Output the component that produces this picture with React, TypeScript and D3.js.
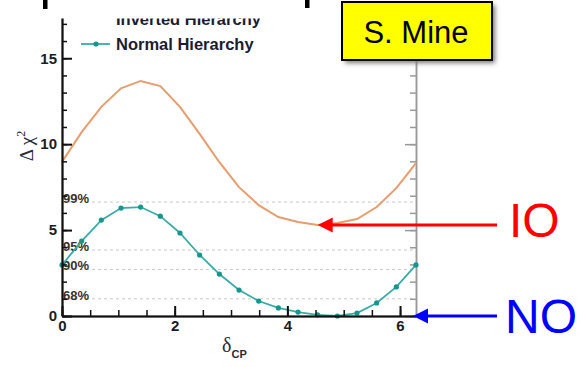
import React from "react";
import { select, scaleLinear, axisLeft, axisBottom, axisRight, line, range } from "d3";

// delta_CP grid (radians), 20 degree steps
const deltaCP = [
  0, 0.349, 0.698, 1.047, 1.396, 1.745, 2.094, 2.443, 2.793, 3.142, 3.491,
  3.84, 4.189, 4.538, 4.887, 5.236, 5.585, 5.934, 6.283,
];
const normalChi2 = [
  2.97, 4.36, 5.58, 6.28, 6.34, 5.81, 4.83, 3.55, 2.44, 1.51, 0.87, 0.47,
  0.23, 0.07, 0.0, 0.17, 0.76, 1.69, 2.97,
];
const invertedChi2 = [
  8.97, 10.7, 12.17, 13.25, 13.68, 13.38, 12.17, 10.6, 8.95, 7.5, 6.45, 5.76,
  5.47, 5.3, 5.41, 5.64, 6.34, 7.44, 8.9,
];
const clLabels = ["68%", "90%", "95%", "99%"];
const clValues = [1.0, 2.71, 3.84, 6.63];
const xMajor = [0, 2, 4, 6];
const yMajor = [0, 5, 10, 15];

const W = 578;
const H = 367;
const margin = { top: 17, right: 162, bottom: 51, left: 62 };

const App = () => {
  const svgRef = React.useRef<SVGSVGElement>(null);

  React.useEffect(() => {
    const svg = select(svgRef.current);
    svg.selectAll("*").remove();

    const x = scaleLinear()
      .domain([0, 2 * Math.PI])
      .range([margin.left, W - margin.right]);
    const y = scaleLinear()
      .domain([0, 17.4])
      .range([H - margin.bottom, margin.top]);

    const x0 = x.range()[0];
    const x1 = x.range()[1];
    const yb = y(0);

    const defs = svg.append("defs");
    const f = defs.append("filter").attr("id", "shadow").attr("x", "-20%").attr("y", "-20%").attr("width", "140%").attr("height", "150%");
    f.append("feGaussianBlur").attr("stdDeviation", 2.5);

    // confidence level lines
    const cl = svg.append("g");
    cl.selectAll("line")
      .data(clValues)
      .join("line")
      .attr("x1", x0)
      .attr("x2", x1)
      .attr("y1", (d) => y(d))
      .attr("y2", (d) => y(d))
      .attr("stroke", "#c8c8c8")
      .attr("stroke-width", 1)
      .attr("stroke-dasharray", "3,3");
    cl.selectAll("text")
      .data(clValues)
      .join("text")
      .attr("x", x0 + 1)
      .attr("y", (d) => y(d) + 1)
      .attr("font-family", "Liberation Sans, Arial, sans-serif")
      .attr("font-weight", "bold")
      .attr("font-size", 13)
      .attr("fill", "#3a3030")
      .text((d, i) => clLabels[i]);

    // right axis (grey)
    svg.append("g")
      .attr("transform", `translate(${x1},0)`)
      .call(axisRight(y).tickValues(yMajor).tickSizeInner(-11).tickSizeOuter(0).tickFormat(() => ""))
      .call((g) => g.selectAll("line,path").attr("stroke", "#999").attr("stroke-width", 1.5));
    svg.append("g")
      .attr("transform", `translate(${x1},0)`)
      .call(axisRight(y).tickValues(range(0, 18)).tickSizeInner(-6).tickSizeOuter(0).tickFormat(() => ""))
      .call((g) => g.selectAll("line,path").attr("stroke", "#999").attr("stroke-width", 1.5));

    const lineGen = line<number>()
      .x((d, i) => x(deltaCP[i]))
      .y((d) => y(d));

    svg.append("path")
      .attr("d", lineGen(invertedChi2))
      .attr("fill", "none")
      .attr("stroke", "#e99c6c")
      .attr("stroke-width", 2);

    svg.append("path")
      .attr("d", lineGen(normalChi2))
      .attr("fill", "none")
      .attr("stroke", "#3aaca6")
      .attr("stroke-width", 1.8);
    svg.append("g")
      .selectAll("circle")
      .data(normalChi2)
      .join("circle")
      .attr("cx", (d, i) => x(deltaCP[i]))
      .attr("cy", (d) => y(d))
      .attr("r", 2.6)
      .attr("fill", "#16968c");

    // left axis
    const fontAxis = "Liberation Sans, Arial, sans-serif";
    svg.append("g")
      .attr("transform", `translate(${x0},0)`)
      .call(axisLeft(y).tickValues(yMajor).tickSizeInner(-10).tickSizeOuter(0).tickPadding(5).tickFormat((d) => `${d}`))
      .call((g) => g.selectAll("line,path").attr("stroke", "#111").attr("stroke-width", 2))
      .call((g) =>
        g.selectAll("text")
          .attr("font-family", fontAxis)
          .attr("font-weight", "bold")
          .attr("font-size", 15)
          .attr("fill", "#1c1c24")
      );
    svg.append("g")
      .attr("transform", `translate(${x0},0)`)
      .call(axisLeft(y).tickValues(range(0, 18)).tickSizeInner(-5).tickSizeOuter(0).tickFormat(() => ""))
      .call((g) => g.selectAll("line,path").attr("stroke", "#111").attr("stroke-width", 1.5));

    // bottom axis
    svg.append("g")
      .attr("transform", `translate(0,${yb})`)
      .call(axisBottom(x).tickValues(xMajor).tickSizeInner(-10).tickSizeOuter(0).tickPadding(4).tickFormat((d) => `${d}`))
      .call((g) => g.selectAll("line,path").attr("stroke", "#111").attr("stroke-width", 2))
      .call((g) =>
        g.selectAll("text")
          .attr("font-family", fontAxis)
          .attr("font-weight", "bold")
          .attr("font-size", 15)
          .attr("fill", "#1c1c24")
      );
    svg.append("g")
      .attr("transform", `translate(0,${yb})`)
      .call(axisBottom(x).tickValues(range(0, 6.3, 0.5)).tickSizeInner(-6).tickSizeOuter(0).tickFormat(() => ""))
      .call((g) => g.selectAll("line,path").attr("stroke", "#111").attr("stroke-width", 1.5));

    // axis titles
    const yt = svg.append("text")
      .attr("transform", `translate(33,146) rotate(-90)`)
      .attr("text-anchor", "middle")
      .attr("font-family", "Liberation Serif, Times New Roman, serif")
      .attr("font-size", 19)
      .attr("fill", "#2a2a3a");
    yt.append("tspan").text("Δ χ");
    yt.append("tspan").attr("font-size", 12).attr("dy", -8).text("2");

    const xt = svg.append("text")
      .attr("x", 222)
      .attr("y", 352)
      .attr("fill", "#2a2a3a");
    xt.append("tspan").attr("font-family", "Liberation Serif, serif").attr("font-size", 20).text("δ");
    xt.append("tspan")
      .attr("font-family", fontAxis)
      .attr("font-weight", "bold")
      .attr("font-size", 11)
      .attr("dy", 6)
      .text("CP");

    // legend
    const leg = svg.append("g").attr("font-family", fontAxis).attr("font-weight", "bold").attr("font-size", 16.5).attr("fill", "#1c1c30");
    leg.append("text").attr("x", 116).attr("y", 25).text("Inverted Hierarchy");
    leg.append("text").attr("x", 116).attr("y", 50).text("Normal Hierarchy");
    leg.append("line").attr("x1", 81).attr("x2", 110).attr("y1", 44).attr("y2", 44).attr("stroke", "#3aaca6").attr("stroke-width", 1.8);
    leg.append("circle").attr("cx", 96).attr("cy", 44).attr("r", 2.6).attr("fill", "#16968c");

    // white cut at top of slide
    svg.append("rect").attr("x", 0).attr("y", 0).attr("width", W).attr("height", 18.5).attr("fill", "#fff");
    svg.append("rect").attr("x", 43).attr("y", 0).attr("width", 4.5).attr("height", 9).attr("fill", "#000");
    svg.append("rect").attr("x", 305).attr("y", 0).attr("width", 4.5).attr("height", 8).attr("fill", "#000");

    // S. Mine box
    svg.append("rect").attr("x", 345).attr("y", 5).attr("width", 150).attr("height", 58).attr("fill", "#777").attr("filter", "url(#shadow)");
    svg.append("rect").attr("x", 342).attr("y", 2).attr("width", 150).attr("height", 58).attr("fill", "#ffff00").attr("stroke", "#000").attr("stroke-width", 2);
    svg.append("text")
      .attr("x", 416)
      .attr("y", 43)
      .attr("text-anchor", "middle")
      .attr("font-family", fontAxis)
      .attr("font-size", 31)
      .attr("fill", "#000")
      .text("S. Mine");

    // arrows
    const arrow = (xTip: number, yTip: number, xEnd: number, color: string) => {
      svg.append("line").attr("x1", xTip + 12).attr("x2", xEnd).attr("y1", yTip).attr("y2", yTip).attr("stroke", color).attr("stroke-width", 3);
      svg.append("path")
        .attr("d", `M${xTip},${yTip} L${xTip + 15},${yTip - 7.5} L${xTip + 15},${yTip + 7.5} Z`)
        .attr("fill", color);
    };
    arrow(x(deltaCP[13]), y(invertedChi2[13]), 497, "#ff0000");
    arrow(x1 - 3, yb, 497, "#0000ff");

    svg.append("text").attr("x", 509).attr("y", 237).attr("font-family", fontAxis).attr("font-size", 48).attr("fill", "#ff0000").text("IO");
    svg.append("text").attr("x", 505).attr("y", 333).attr("font-family", fontAxis).attr("font-size", 48).attr("fill", "#0000ff").text("NO");

    return () => {
      svg.selectAll("*").remove();
    };
  }, []);

  return (
    <svg
      ref={svgRef}
      width={W}
      height={H}
      style={{ position: "absolute", left: 0, top: 0, background: "#fff" }}
    />
  );
};

export default App;
